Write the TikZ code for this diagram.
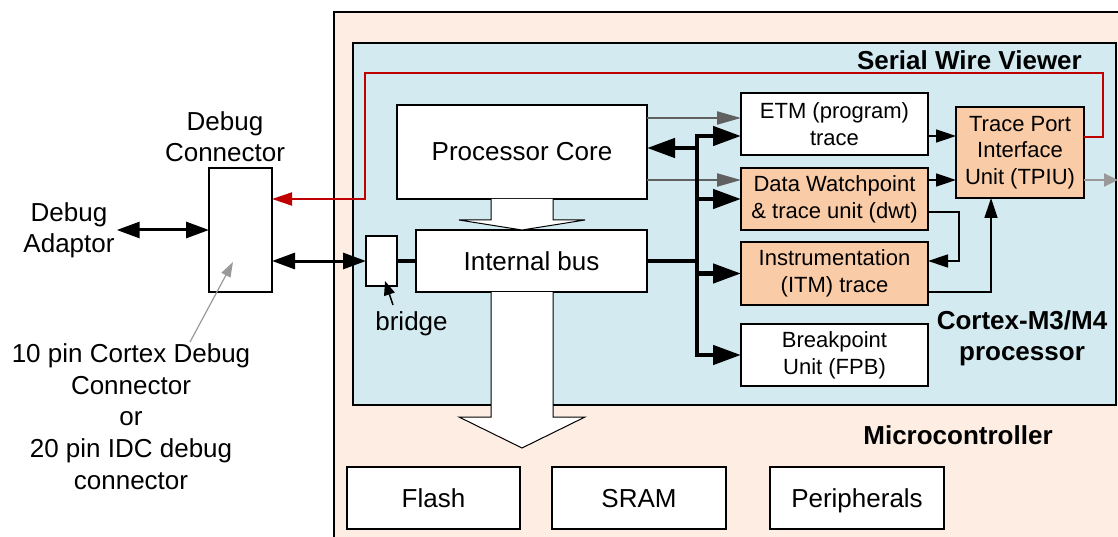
\documentclass[tikz,border=0pt]{standalone}
\usepackage{fontspec}
\setmainfont{Liberation Sans}
\usetikzlibrary{arrows.meta}
\definecolor{peach}{HTML}{FDEDE2}
\definecolor{cblue}{HTML}{D2EAF0}
\definecolor{orng}{HTML}{F9CBA6}
\definecolor{redl}{HTML}{C00000}
\definecolor{greyd}{HTML}{606060}
\definecolor{greyl}{HTML}{999999}
\begin{document}
\begin{tikzpicture}[x=1pt,y=-1pt,
  box/.style={draw, line width=1.3pt, fill=white, inner sep=0pt, outer sep=0pt, align=center, font=\fontsize{22}{27}\selectfont},
  bigbox/.style={box, font=\fontsize{26}{31}\selectfont},
  membox/.style={bigbox, minimum height=62pt, text height=19pt, text depth=0pt},
  obox/.style={box, fill=orng},
  lbl/.style={inner sep=0pt, align=center, font=\fontsize{26}{31}\selectfont},
  blbl/.style={inner sep=0pt, align=center, font=\fontsize{26}{31}\selectfont\bfseries},
  busline/.style={line width=4.5pt, black},
  busarrow/.style={busline, -{Triangle[length=28pt,width=19pt]}},
  dblarrow/.style={line width=3pt, {Triangle[length=23pt,width=16pt]}-{Triangle[length=23pt,width=16pt]}},
  thinarrow/.style={line width=1.5pt, -{Triangle[length=20pt,width=13pt]}},
  greyarrow/.style={line width=2pt, greyd, -{Triangle[length=24pt,width=13pt]}},
  greyout/.style={line width=2pt, greyl, -{Triangle[length=14pt,width=13pt]}},
  redline/.style={line width=2pt, redl, -{Triangle[length=20pt,width=13pt]}},
  pointer/.style={line width=1.2pt, greyl, -{Triangle[length=15pt,width=10pt]}},
  brptr/.style={line width=1.5pt, black, -{Triangle[length=14pt,width=11pt]}},
  hollow/.style={draw, line width=1pt, fill=white}]
\useasboundingbox (0,0) rectangle (1118,537);
% backgrounds
\draw[fill=peach, line width=1.3pt] (334,12) rectangle (1130,550);
\draw[fill=cblue, line width=1.3pt] (353,43) rectangle (1116,405);
% boxes
\node[bigbox, minimum width=250pt, minimum height=94pt] (core) at (522,152) {Processor Core};
\node[bigbox, minimum width=231pt, minimum height=62pt] (ibus) at (531.5,261) {Internal bus};
\node[box, minimum width=31pt, minimum height=50pt] (bridge) at (381.5,261) {};
\node[box, minimum width=63pt, minimum height=124pt] (dbgconn) at (240.5,230) {};
\node[box, minimum width=187pt, minimum height=62pt] (etm) at (834.5,124) {ETM (program)\\trace};
\node[obox, minimum width=187pt, minimum height=62pt] (dwt) at (834.5,199) {Data Watchpoint\\\& trace unit (dwt)};
\node[obox, minimum width=187pt, minimum height=63pt] (itm) at (834.5,273.5) {Instrumentation\\(ITM) trace};
\node[box, minimum width=187pt, minimum height=62pt] (fpb) at (834.5,355) {Breakpoint\\Unit (FPB)};
\node[obox, minimum width=128pt, minimum height=91pt, font=\fontsize{22}{26.5}\selectfont] (tpiu) at (1020,152.5) {Trace Port\\Interface\\Unit (TPIU)};
\node[membox, minimum width=173pt] (flash) at (433.5,498) {Flash};
\node[membox, minimum width=174pt] (sram) at (639,498) {SRAM};
\node[membox, minimum width=174pt] (periph) at (857,498) {Peripherals};
% labels
\node[lbl] (dclbl) at (225,136.5) {Debug\\Connector};
\node[lbl, inner sep=2pt] (adaptor) at (69,230) {Debug\\Adaptor};
\node[lbl, font=\fontsize{26}{31.7}\selectfont] (pinlbl) at (131,416.5) {10 pin Cortex Debug\\Connector\\or\\20 pin IDC debug\\connector};
\node[lbl] (bridgelbl) at (411.5,324) {bridge};
\node[blbl, anchor=east] (swv) at (1082,60) {Serial Wire Viewer};
\node[blbl] (cortexlbl) at (1022,338) {Cortex-M3/M4\\processor};
\node[blbl] (mculbl) at (958,435) {Microcontroller};
% hollow arrows
\draw[hollow] ([xshift=-31pt]core.south) -- ++(0,21) -- ++(-32,0) -- (core.south |- ibus.north) -- ++(63,-10) -- ++(-32,0) -- ([xshift=31pt]core.south);
\coordinate (bt) at (core.south |- ibus.south);
\draw[hollow] ([xshift=-31pt]bt) -- ++(0,125) -- ++(-32,0) -- ++(63,31) -- ++(63,-31) -- ++(-32,0) -- ([xshift=31pt]bt);
% red trace line
\coordinate (redturn) at (365,199);
\draw[redline] ([yshift=15.5pt]tpiu.east) -| (1103,73) -| (redturn) -- (dbgconn.east |- redturn);
% bus
\coordinate (busx) at (697,0);
\coordinate (etmin) at ([yshift=-12pt]etm.west);
\coordinate (corein) at ([yshift=4pt]core.east);
\coordinate (g1) at ([yshift=6pt]etm.west);
\coordinate (g2) at ([yshift=19pt]dwt.west);
\draw[greyarrow] (core.east |- g1) -- (g1);
\draw[greyarrow] (core.east |- g2) -- (g2);
\draw[busline, line cap=rect] (busx |- etmin) -- (busx |- fpb.west);
\draw[busarrow] (busx |- etmin) -- (etmin);
\draw[busarrow] (busx |- dwt.west) -- (dwt.west);
\draw[busarrow] (busx |- itm.west) -- (itm.west);
\draw[busarrow] (busx |- fpb.west) -- (fpb.west);
\draw[busarrow] (busx |- corein) -- (corein);
\draw[busline] (ibus.east) -- (busx |- ibus.east);
% trace paths
\draw[thinarrow] ([yshift=-12pt]etm.east) -- (tpiu.west |- etmin);
\draw[thinarrow] ([yshift=19pt]dwt.east) -- (tpiu.west |- g2);
\coordinate (loopx) at (959,0);
\coordinate (itmin) at ([yshift=12.5pt]itm.east);
\draw[thinarrow] ([yshift=-13pt]dwt.east) -| (loopx |- itmin) -- (itmin);
\draw[thinarrow] ([yshift=-18.5pt]itm.east) -| ([xshift=-29pt]tpiu.south);
\coordinate (tpout) at (1118,180);
\draw[greyout] ([yshift=-27.5pt]tpiu.east) -- (tpout);
% debug connections
\draw[dblarrow] (adaptor.east) -- (dbgconn.west |- adaptor.east);
\draw[dblarrow] (dbgconn.east |- bridge.west) -- (bridge.west);
\draw[line width=4pt] (bridge.east) -- (ibus.west);
\coordinate (ptrtail) at (190,342);
\draw[pointer] (ptrtail) -- ([xshift=-7.5pt,yshift=-32pt]dbgconn.center);
\coordinate (brtail) at (393,305);
\draw[brptr] (brtail) -- ([xshift=3.5pt,yshift=5pt]bridge.south);
\end{tikzpicture}
\end{document}
